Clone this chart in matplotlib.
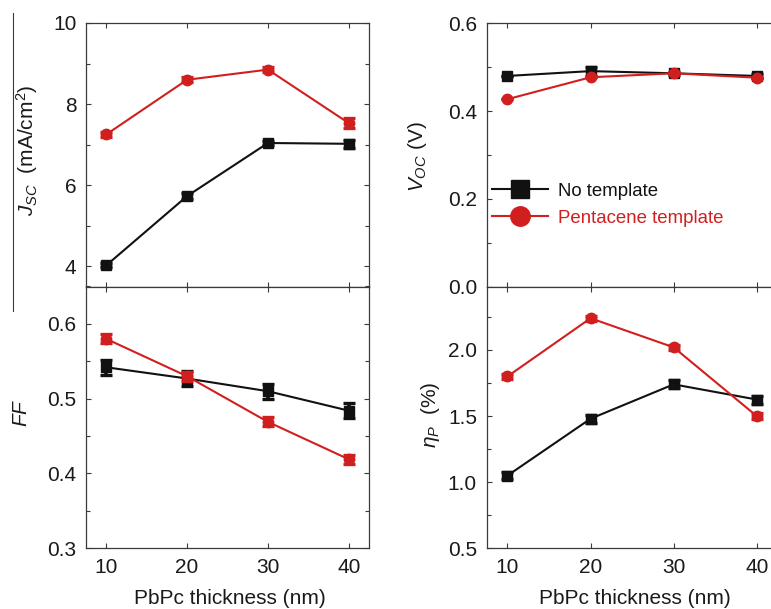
import matplotlib
matplotlib.use('Agg')
import matplotlib.pyplot as plt
from matplotlib.lines import Line2D
from matplotlib.ticker import MultipleLocator, FormatStrFormatter

plt.rcParams['font.family'] = ['Liberation Sans', 'DejaVu Sans']
plt.rcParams['mathtext.fontset'] = 'custom'
plt.rcParams['mathtext.rm'] = 'Liberation Sans'
plt.rcParams['mathtext.it'] = 'Liberation Sans:italic'
plt.rcParams['mathtext.bf'] = 'Liberation Sans:bold'

# ---------------- data ----------------
thickness = [10, 20, 30, 40]
series_names = ['No template', 'Pentacene template']

jsc_none = [4.02, 5.73, 7.04, 7.02]
jsc_none_err = [0.05, 0.08, 0.05, 0.10]
jsc_pent = [7.25, 8.60, 8.85, 7.53]
jsc_pent_err = [0.05, 0.06, 0.07, 0.12]

voc_none = [0.480, 0.491, 0.486, 0.480]
voc_none_err = [0.0, 0.010, 0.003, 0.004]
voc_pent = [0.427, 0.477, 0.486, 0.476]
voc_pent_err = [0.0, 0.0, 0.0, 0.0]

ff_none = [0.542, 0.527, 0.510, 0.484]
ff_none_err = [0.010, 0.010, 0.010, 0.010]
ff_pent = [0.580, 0.530, 0.469, 0.419]
ff_pent_err = [0.006, 0.006, 0.006, 0.006]

eta_none = [1.05, 1.48, 1.74, 1.625]
eta_none_err = [0.025, 0.03, 0.03, 0.03]
eta_pent = [1.80, 2.24, 2.02, 1.50]
eta_pent_err = [0.02, 0.02, 0.02, 0.02]

black = '#111111'
red = '#d11f1f'
spine_c = '#3a3a3a'
text_c = '#1a1a1a'

W, H = 771, 609
fig = plt.figure(figsize=(W / 100, H / 100), dpi=100)


def box(l, t, r, b):
    return [l / W, 1 - b / H, (r - l) / W, (b - t) / H]


ax_j = fig.add_axes(box(86, 23, 369, 286.5))
ax_ff = fig.add_axes(box(86, 286.5, 369, 548.3))
ax_v = fig.add_axes(box(486.7, 23.3, 777.5, 286.5))
ax_eta = fig.add_axes(box(486.7, 286.5, 777.5, 548.3))

panels = [
    (ax_j, jsc_none, jsc_none_err, jsc_pent, jsc_pent_err, (3.5, 10.0), 2, 1, '%d'),
    (ax_v, voc_none, voc_none_err, voc_pent, voc_pent_err, (0.0, 0.6), 0.2, 0.1, '%.1f'),
    (ax_ff, ff_none, ff_none_err, ff_pent, ff_pent_err, (0.3, 0.65), 0.1, 0.05, '%.1f'),
    (ax_eta, eta_none, eta_none_err, eta_pent, eta_pent_err, (0.5, 2.48), 0.5, 0.25, '%.1f'),
]

for ax, yn, en, yp, ep, ylim, maj, mnr, fmt in panels:
    ax.errorbar(thickness, yn, yerr=en, color=black, marker='s', ms=6.5,
                lw=1.5, elinewidth=2.6, capsize=4.5, capthick=2.4, zorder=3)
    ax.errorbar(thickness, yp, yerr=ep, color=red, marker='o', ms=7.5,
                lw=1.5, elinewidth=2.6, capsize=4.5, capthick=2.4, zorder=4)
    ax.set_xlim(7.5, 42.5)
    ax.set_ylim(*ylim)
    ax.xaxis.set_major_locator(MultipleLocator(10))
    ax.yaxis.set_major_locator(MultipleLocator(maj))
    ax.yaxis.set_minor_locator(MultipleLocator(mnr))
    ax.yaxis.set_major_formatter(FormatStrFormatter(fmt))
    for s in ax.spines.values():
        s.set_color(spine_c)
        s.set_linewidth(0.9)
    ax.tick_params(which='both', direction='in', top=True, right=True,
                   color=spine_c, width=0.8, labelsize=15, labelcolor=text_c)
    ax.tick_params(which='major', length=3.6)
    ax.tick_params(which='minor', length=3.0)
    ax.tick_params(axis='y', pad=7)
    ax.tick_params(axis='x', pad=7)

for ax in (ax_j, ax_v):
    ax.tick_params(labelbottom=False)

# legend
handles = [
    Line2D([], [], color=black, marker='s', ms=12.5, lw=1.5),
    Line2D([], [], color=red, marker='o', ms=14, lw=1.5),
]
leg = ax_v.legend(handles, series_names, loc='center left',
                  bbox_to_anchor=(0.0, 0.311), frameon=False, fontsize=13.4,
                  handlelength=3.0, handletextpad=0.55, labelspacing=0.52,
                  borderpad=0, borderaxespad=0.3)
for t, c in zip(leg.get_texts(), [black, red]):
    t.set_color(c)


def ftext(x, y, s, **kw):
    fig.text(x / W, 1 - y / H, s, ha='center', va='center', color=text_c, **kw)


ftext(27, 150, r'$J_{SC}$  (mA/cm$^{2}$)', rotation=90, fontsize=15)
ftext(418, 157, r'$V_{OC}$ (V)', rotation=90, fontsize=15)
ftext(21.7, 413, r'$FF$', rotation=90, fontsize=15)
ftext(430, 415, r'$\eta_{P}$  (%)', rotation=90, fontsize=15)
ftext(230, 598, 'PbPc thickness (nm)', fontsize=15)
ftext(634.5, 598, 'PbPc thickness (nm)', fontsize=15)

# thin vertical rule at the left edge of the original figure
fig.add_artist(Line2D([13 / W, 13 / W], [1 - 13 / H, 1 - 311 / H],
                      transform=fig.transFigure, color=spine_c, lw=0.8))

fig.savefig('out.png', dpi=100)
